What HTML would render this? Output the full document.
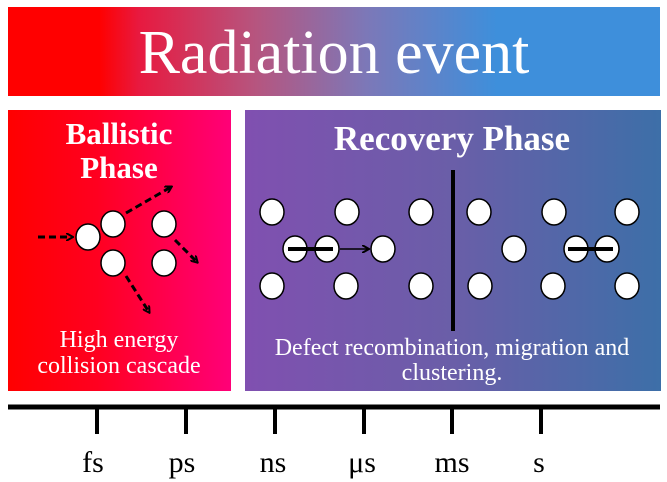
<!DOCTYPE html>
<html><head><meta charset="utf-8"><style>
body{margin:0;width:667px;height:482px;background:#fff;overflow:hidden;position:relative;font-family:"Liberation Serif",serif}
</style></head><body>
<svg width="667" height="482" viewBox="0 0 667 482" style="position:absolute;left:0;top:0">
<defs>
<linearGradient id="gb" x1="0" x2="1"><stop offset="0" stop-color="#ff0000"/><stop offset="0.14" stop-color="#ff0000"/><stop offset="0.2" stop-color="#e8193f"/><stop offset="0.38" stop-color="#b6557f"/><stop offset="0.55" stop-color="#7c78b8"/><stop offset="0.75" stop-color="#3e8fdb"/><stop offset="1" stop-color="#3e8fdb"/></linearGradient>
<linearGradient id="gl" x1="0" x2="1"><stop offset="0" stop-color="#ff0000"/><stop offset="0.4" stop-color="#ff0020"/><stop offset="1" stop-color="#ff0078"/></linearGradient>
<linearGradient id="gr" x1="0" x2="1"><stop offset="0" stop-color="#8050b0"/><stop offset="0.5" stop-color="#6a5ea8"/><stop offset="1" stop-color="#3d6fa8"/></linearGradient>
<marker id="ah" markerWidth="8" markerHeight="8" refX="6" refY="4" orient="auto" markerUnits="userSpaceOnUse"><path d="M0,0 L7,4 L0,8" fill="none" stroke="#000" stroke-width="2"/></marker>
</defs>
<g>
<rect x="8" y="7" width="652" height="89" fill="url(#gb)"/>
<text x="334" y="73" text-anchor="middle" fill="#fff" font-size="62" font-family="Liberation Serif,serif">Radiation event</text>
</g>
<g>
<rect x="8" y="110" width="223" height="281" fill="url(#gl)"/>
<text x="119" y="144" text-anchor="middle" fill="#fff" font-size="31" font-weight="bold">Ballistic</text>
<text x="119" y="178" text-anchor="middle" fill="#fff" font-size="31" font-weight="bold">Phase</text>
<g stroke="#000" stroke-width="3" stroke-dasharray="7,4" fill="none" marker-end="url(#ah)">
<line x1="38" y1="237" x2="72" y2="237"/><line x1="126" y1="213" x2="171" y2="187"/><line x1="175" y1="240" x2="197" y2="262"/><line x1="126" y1="276" x2="149" y2="312"/>
</g>
<g fill="#fff" stroke="#000" stroke-width="1.5">
<ellipse cx="88" cy="237" rx="12" ry="13"/><ellipse cx="113" cy="224" rx="12" ry="13"/><ellipse cx="164" cy="224" rx="12" ry="13"/><ellipse cx="113" cy="263" rx="12" ry="13"/><ellipse cx="164" cy="263" rx="12" ry="13"/>
</g>
<text x="119" y="347" text-anchor="middle" fill="#fff" font-size="24">High energy</text>
<text x="119" y="373" text-anchor="middle" fill="#fff" font-size="24">collision cascade</text>
</g>
<g>
<rect x="245" y="110" width="416" height="281" fill="url(#gr)"/>
<text x="452" y="150" text-anchor="middle" fill="#fff" font-size="35" font-weight="bold">Recovery Phase</text>
<line x1="453" y1="170" x2="453" y2="331" stroke="#000" stroke-width="4"/>
<g fill="#fff" stroke="#000" stroke-width="1.5">
<ellipse cx="272" cy="212" rx="12" ry="13"/><ellipse cx="347" cy="212" rx="12" ry="13"/><ellipse cx="421" cy="212" rx="12" ry="13"/>
<ellipse cx="479" cy="212" rx="12" ry="13"/><ellipse cx="554" cy="212" rx="12" ry="13"/><ellipse cx="627" cy="212" rx="12" ry="13"/>
<ellipse cx="295" cy="249" rx="12" ry="13"/><ellipse cx="327" cy="249" rx="12" ry="13"/><ellipse cx="383" cy="249" rx="12" ry="13"/>
<ellipse cx="514" cy="249" rx="12" ry="13"/><ellipse cx="576" cy="249" rx="12" ry="13"/><ellipse cx="607" cy="249" rx="12" ry="13"/>
<ellipse cx="272" cy="286" rx="12" ry="13"/><ellipse cx="346" cy="286" rx="12" ry="13"/><ellipse cx="421" cy="286" rx="12" ry="13"/>
<ellipse cx="480" cy="286" rx="12" ry="13"/><ellipse cx="553" cy="286" rx="12" ry="13"/><ellipse cx="627" cy="286" rx="12" ry="13"/>
</g>
<line x1="288" y1="249" x2="333" y2="249" stroke="#000" stroke-width="4"/>
<line x1="340" y1="249" x2="368" y2="249" stroke="#000" stroke-width="1.5" marker-end="url(#ah)"/>
<line x1="568" y1="249" x2="613" y2="249" stroke="#000" stroke-width="4"/>
<text x="452" y="355" text-anchor="middle" fill="#fff" font-size="24">Defect recombination, migration and</text>
<text x="452" y="380" text-anchor="middle" fill="#fff" font-size="24">clustering.</text>
</g>
<g>
<line x1="8" y1="407" x2="660" y2="407" stroke="#000" stroke-width="5"/>
<g stroke="#000" stroke-width="4">
<line x1="97" y1="407" x2="97" y2="434"/><line x1="186" y1="407" x2="186" y2="434"/><line x1="275" y1="407" x2="275" y2="434"/><line x1="364" y1="407" x2="364" y2="434"/><line x1="452" y1="407" x2="452" y2="434"/><line x1="541" y1="407" x2="541" y2="434"/>
</g>
<g font-size="30" text-anchor="middle" fill="#000">
<text x="93" y="472">fs</text><text x="182" y="472">ps</text><text x="273" y="472">ns</text><text x="362" y="472">μs</text><text x="452" y="472">ms</text><text x="539" y="472">s</text>
</g>
</g>
</svg>
</body></html>
